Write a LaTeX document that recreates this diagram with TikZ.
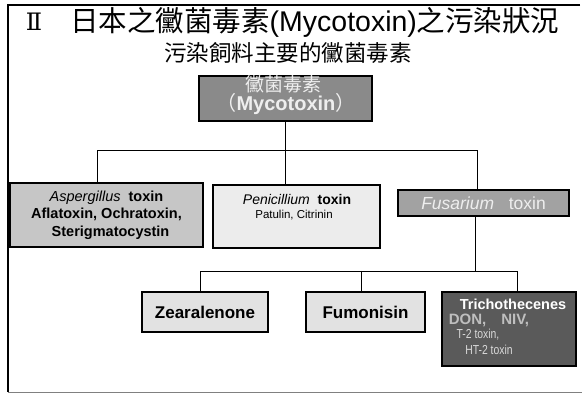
\documentclass[tikz,border=0pt]{standalone}
\usepackage{fontspec}
\setmainfont{Liberation Sans}
\newfontfamily\cjk{Noto Sans CJK TC}
\newfontfamily\romfont{DejaVu Serif}
\definecolor{topfill}{HTML}{8A8A8A}
\definecolor{aspfill}{HTML}{C6C6C6}
\definecolor{penfill}{HTML}{ECECEC}
\definecolor{fusfill}{HTML}{A2A2A2}
\definecolor{lowfill}{HTML}{E2E2E2}
\definecolor{trifill}{HTML}{5A5A5A}
\definecolor{lighttext}{HTML}{EEEEEE}
\tikzset{
  box/.style={draw=black, line width=1.1pt, inner sep=0pt, anchor=center},
  conn/.style={draw=black, line width=0.8pt},
  txt/.style={inner sep=0pt, anchor=center, align=center},
}
\begin{document}
\begin{tikzpicture}[x=1pt, y=-1pt]
\useasboundingbox (0,0) rectangle (582,393);
% frame
\coordinate (fTL) at (8,5);
\coordinate (fTR) at (580,5);
\coordinate (fBL) at (8,392);
\coordinate (fBR) at (582,392);
\draw[line width=1.6pt] (fTR) -- (fTL) -- (fBL);
\draw[line width=0.6pt, gray] (fBL) -- (fBR);
% titles
\node[txt, font=\romfont\fontsize{24}{24}\selectfont] (num) at (34,22) {Ⅱ};
\node[txt, anchor=west, font=\fontsize{28.5}{28.5}\selectfont] (title) at (70,22) {{\cjk 日本之黴菌毒素}(Mycotoxin){\cjk 之污染狀況}};
\node[txt, font=\cjk\fontsize{22.5}{22.5}\selectfont] (sub) at (288,53) {污染飼料主要的黴菌毒素};
% boxes
\node[box, fill=topfill, minimum width=173pt, minimum height=45pt] (top) at (285.5,98.5) {};
\node[txt, text=lighttext, font=\cjk\fontsize{19}{19}\selectfont] (topA) at (283,84) {黴菌毒素};
\node[txt, text=lighttext, font=\fontsize{20}{20}\selectfont] (topB) at (286,104) {{\cjk （}\textbf{Mycotoxin}{\cjk ）}};
\node[box, fill=aspfill, minimum width=193pt, minimum height=64pt, font=\bfseries\fontsize{14.5}{17.5}\selectfont, align=center] (asp) at (106.5,215) {\textit{\mdseries Aspergillus}\ \ toxin\\Aflatoxin, Ochratoxin,\\ \ \ Sterigmatocystin};
\node[box, fill=penfill, minimum width=167pt, minimum height=63pt] (pen) at (296.5,216.5) {};
\node[txt, font=\fontsize{14}{14}\selectfont] (penA) at (297,199) {\textit{Penicillium}\ \ \textbf{toxin}};
\node[txt, font=\fontsize{11.5}{11.5}\selectfont] (penB) at (294,215) {Patulin, Citrinin};
\node[box, fill=fusfill, minimum width=171pt, minimum height=26pt, text=lighttext, font=\fontsize{17.5}{17.5}\selectfont] (fus) at (483.5,203) {\textit{Fusarium}\ \ \ toxin};
\node[box, fill=lowfill, minimum width=126pt, minimum height=40pt, font=\bfseries\fontsize{17}{17}\selectfont] (zea) at (205,312) {Zearalenone};
\node[box, fill=lowfill, minimum width=119pt, minimum height=40pt, font=\bfseries\fontsize{17}{17}\selectfont] (fum) at (365.5,312) {Fumonisin};
\node[box, fill=trifill, minimum width=134pt, minimum height=74pt] (tri) at (509,329) {};
\node[txt, text=white, font=\bfseries\fontsize{14.5}{14.5}\selectfont] (triA) at (513,304) {Trichothecenes};
\node[txt, text=black!25, font=\bfseries\fontsize{15}{15}\selectfont] (triB) at (489,320.5) {DON,\quad NIV,};
\node[txt, text=black!15, font=\fontsize{13}{13}\selectfont] (triC) at (478,335) {\scalebox{0.8}[1]{T-2 toxin,}};
\node[txt, text=black!15, font=\fontsize{13}{13}\selectfont] (triD) at (489,350) {\scalebox{0.8}[1]{HT-2 toxin}};
% connectors level 1
\coordinate (busL) at (97,150);
\coordinate (busR) at (477,150);
\draw[conn] (top.south) -- (top.south |- pen.north);
\draw[conn] (busL |- asp.north) -- (busL) -- (busR) -- (busR |- fus.north);
% connectors level 2
\coordinate (stem) at (475,271);
\coordinate (bus2L) at (200,271);
\coordinate (bus2M) at (361,271);
\coordinate (bus2R) at (517,271);
\draw[conn] (stem |- fus.south) -- (stem);
\draw[conn] (bus2L |- zea.north) -- (bus2L) -- (bus2R) -- (bus2R |- tri.north);
\draw[conn] (bus2M) -- (bus2M |- fum.north);
\end{tikzpicture}
\end{document}
